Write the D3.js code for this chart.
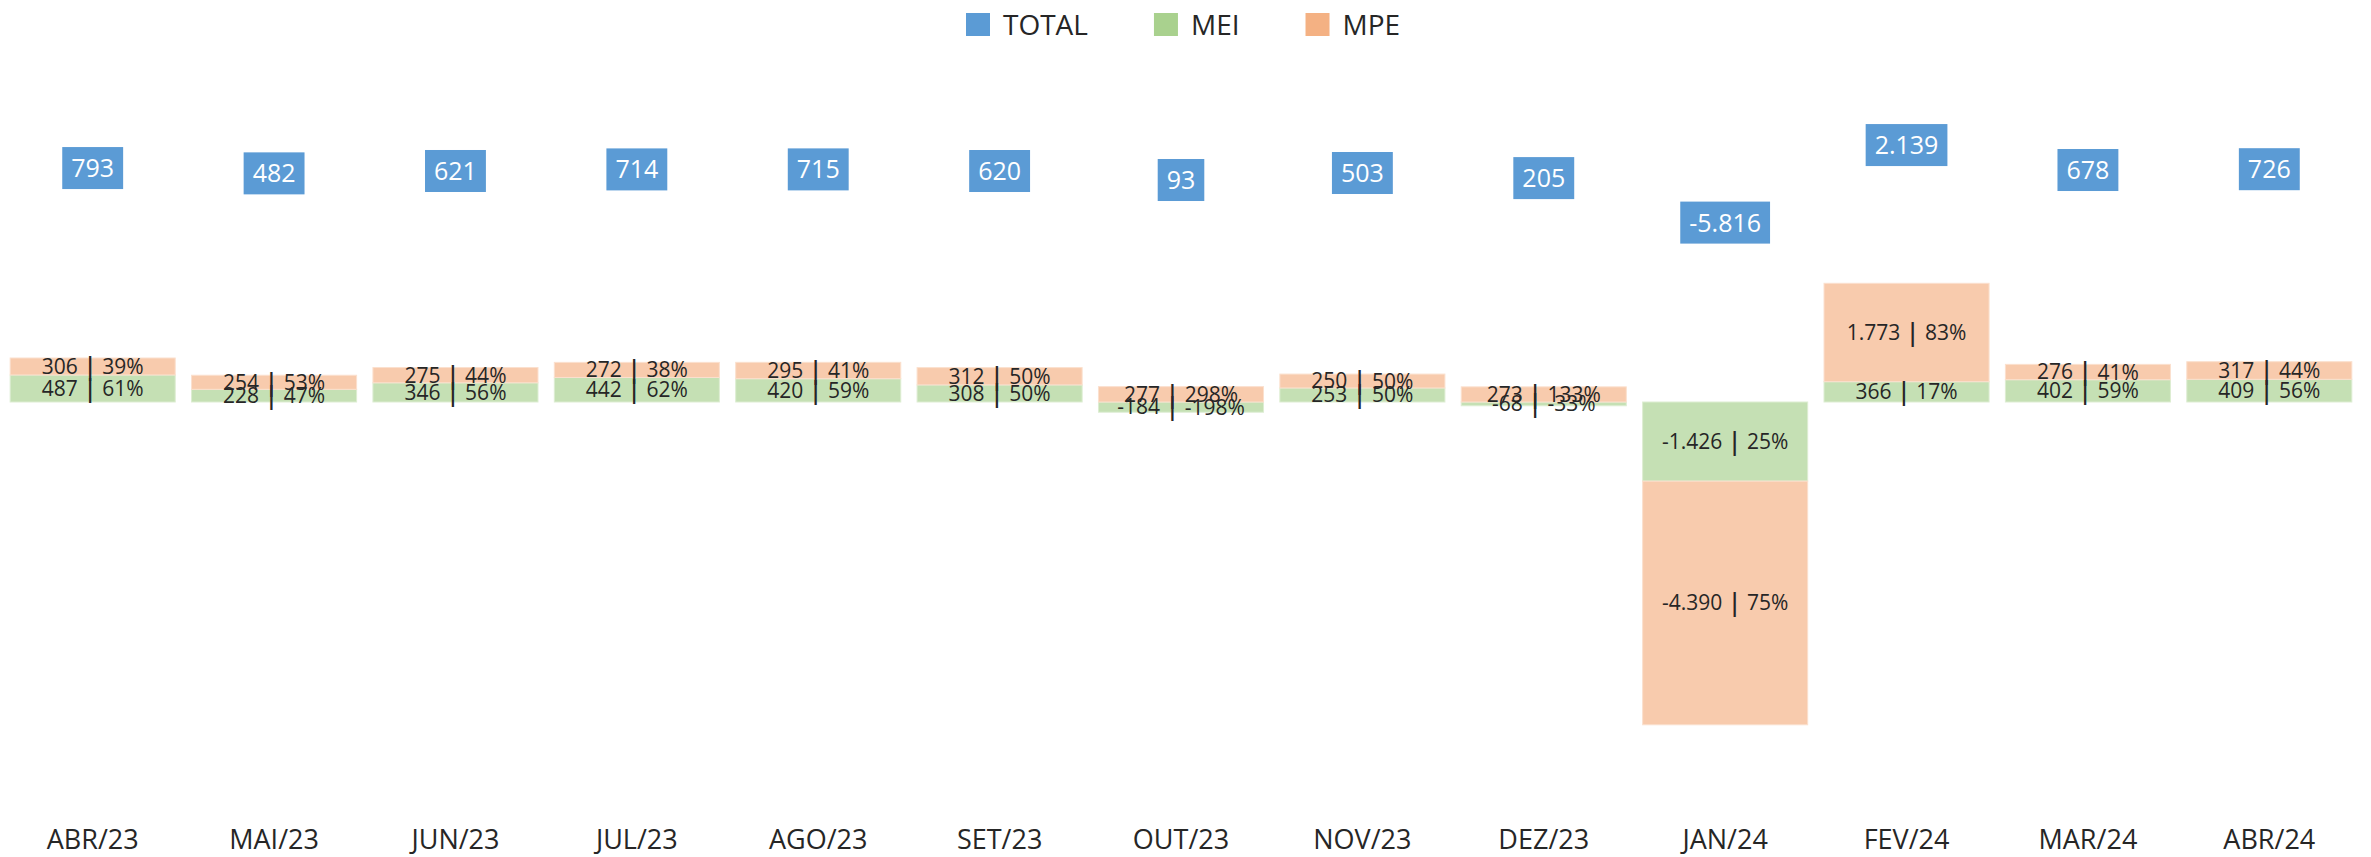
<!DOCTYPE html>
<html>
<head>
<meta charset="utf-8">
<script src="https://cdn.jsdelivr.net/npm/d3@7"></script>
<style>
  html, body { margin: 0; padding: 0; background: #ffffff; }
  svg { display: block; font-family: "Open Sans", "Noto Sans", sans-serif; }
</style>
</head>
<body>
<svg id="chart" width="2371" height="857"></svg>
<script>
// Monthly balance by company type
const months = ["ABR/23","MAI/23","JUN/23","JUL/23","AGO/23","SET/23","OUT/23","NOV/23","DEZ/23","JAN/24","FEV/24","MAR/24","ABR/24"];
const mei    = [487, 228, 346, 442, 420, 308, -184, 253, -68, -1426, 366, 402, 409];
const mpe    = [306, 254, 275, 272, 295, 312, 277, 250, 273, -4390, 1773, 276, 317];
const total  = [793, 482, 621, 714, 715, 620, 93, 503, 205, -5816, 2139, 678, 726];

const seriesKeys   = ["MEI", "MPE"];
const legendLabels = ["TOTAL", "MEI", "MPE"];
const legendColors = ["#5B9BD5", "#A9D18E", "#F4B183"];
const barColors    = { MEI: "#C5E0B4", MPE: "#F8CBAD" };
const barStroke    = { MEI: "#DDEDD2", MPE: "#FBE0CE" };

const W = 2371, H = 857;
const svg = d3.select("#chart");

const ptBR = d3.formatLocale({ decimal: ",", thousands: ".", grouping: [3], currency: ["R$", ""], minus: "-" });
const fmt = ptBR.format(",d");

const rows = months.map((m, i) => ({ month: m, MEI: mei[i], MPE: mpe[i], TOTAL: total[i] }));

// scales
const x = d3.scaleBand().domain(months).range([2, 2360]).paddingInner(0.09).paddingOuter(0.045);
const y = d3.scaleLinear().domain([-6000, 6000]).range([735, 69]);
// secondary scale used to place the total labels (clamped at its lower bound)
const yTot = d3.scaleLinear().domain([-2400, 2400]).range([222.6, 140.6]).clamp(true);

const stack = d3.stack().keys(seriesKeys).offset(d3.stackOffsetDiverging);
const stacked = stack(rows);

// stacked bars
const layers = svg.append("g").selectAll("g")
  .data(stacked).join("g")
  .attr("fill", d => barColors[d.key])
  .attr("stroke", d => barStroke[d.key])
  .attr("stroke-width", 1);

layers.selectAll("rect")
  .data(d => d.map(p => ({ p, key: d.key })))
  .join("rect")
  .attr("x", d => x(d.p.data.month))
  .attr("width", x.bandwidth())
  .attr("y", d => y(Math.max(d.p[0], d.p[1])))
  .attr("height", d => Math.abs(y(d.p[0]) - y(d.p[1])));

// segment labels: value | share of total
const labelG = svg.append("g")
  .attr("font-size", 21)
  .attr("fill", "#262626")
  .attr("text-anchor", "middle");

stacked.forEach(layer => {
  layer.forEach(p => {
    const r = p.data;
    const v = r[layer.key];
    const pct = Math.round(v / r.TOTAL * 100);
    const t = labelG.append("text")
      .attr("x", x(r.month) + x.bandwidth() / 2)
      .attr("y", (y(p[0]) + y(p[1])) / 2)
      .attr("dy", "0.35em");
    t.append("tspan").text(`${fmt(v)} `);
    t.append("tspan").attr("font-size", 25).attr("font-weight", 600).attr("dy", "0.04em").text("|");
    t.append("tspan").attr("dy", "-0.04em").text(` ${pct}%`);
  });
});

// total labels in boxes
const totG = svg.append("g").selectAll("g").data(rows).join("g")
  .attr("transform", d => `translate(${x(d.month) + x.bandwidth() / 2},${yTot(d.TOTAL)})`);
totG.append("rect").attr("fill", "#5B9BD5");
const totText = totG.append("text")
  .attr("text-anchor", "middle")
  .attr("dy", "0.36em")
  .attr("font-size", 25)
  .attr("fill", "#ffffff")
  .text(d => fmt(d.TOTAL));
totText.each(function() {
  const w = this.getComputedTextLength();
  d3.select(this.parentNode).select("rect")
    .attr("x", -w / 2 - 9).attr("width", w + 18)
    .attr("y", -21).attr("height", 42);
});

// category axis labels
const xAxis = d3.axisBottom(x).tickSize(0).tickPadding(0);
const axG = svg.append("g").attr("transform", "translate(0,827)").call(xAxis);
axG.select(".domain").remove();
axG.selectAll("text")
  .attr("font-family", "\"Open Sans\", \"Noto Sans\", sans-serif")
  .attr("font-size", 27)
  .attr("fill", "#262626")
  .attr("dy", "0.8em");

// legend
const legend = svg.append("g").attr("transform", "translate(966,0)");
let lx = 0;
legendLabels.forEach((name, i) => {
  const g = legend.append("g").attr("transform", `translate(${lx},0)`);
  g.append("rect").attr("x", 0).attr("y", 13).attr("width", 24).attr("height", 23).attr("fill", legendColors[i]);
  const t = g.append("text").attr("x", 37).attr("y", 35)
    .attr("font-size", 28).attr("fill", "#262626").text(name);
  lx += 37 + t.node().getComputedTextLength() + 66;
});
</script>
</body>
</html>
